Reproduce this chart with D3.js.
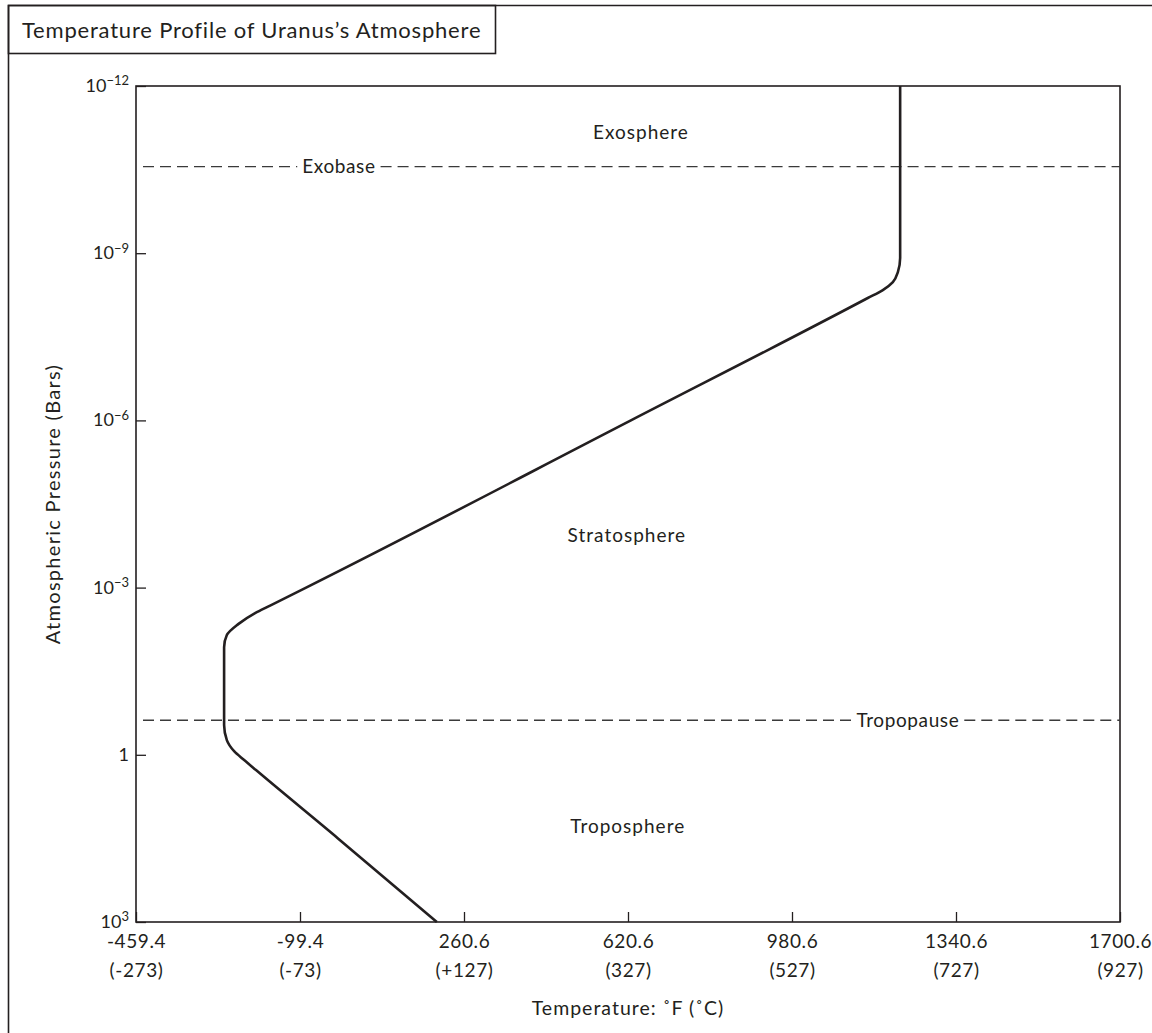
<!DOCTYPE html>
<html>
<head>
<meta charset="utf-8">
<script src="https://cdn.jsdelivr.net/npm/d3@7"></script>
<style>
  body { margin: 0; background: #fff; }
  text { font-family: Lato, "Open Sans", sans-serif; fill: #231f20; }
</style>
</head>
<body>
<div id="chart"></div>
<script>
// temperature (deg F) and pressure (bars) read along the profile, top to bottom
let profileTempF = [1218, 1218, 1213, 1202, 1180, 1147, 627, -86, -165, -198, -235, -260, -266, -266, -260, -244, -222, -196, -16, 201];
let profilePressure = [1e-12, 1.22e-9, 2.18e-9, 3.29e-9, 4.58e-9, 6.37e-9, 1e-6, 1e-3, 2.1e-3, 2.86e-3, 4.52e-3, 7.11e-3, 1.17e-2, 0.293, 0.545, 0.86, 1.24, 1.88, 31.6, 1e3];

// x tick labels
let tickF = [-459.4, -99.4, 260.6, 620.6, 980.6, 1340.6, 1700.6];
let tickFLabels = ["-459.4", "-99.4", "260.6", "620.6", "980.6", "1340.6", "1700.6"];
let tickC = ["(-273)", "(-73)", "(+127)", "(327)", "(527)", "(727)", "(927)"];

// y ticks (exponents of 10)
let tickExp = [-12, -9, -6, -3, 0, 3];

// boundaries and layer names
let boundaryNames = ["Exobase", "Tropopause"];
let boundaryPressure = [2.8e-11, 0.24];
let boundaryLabelF = [-14, 1235];
let layerNames = ["Exosphere", "Stratosphere", "Troposphere"];
let layerPressure = [6.7e-12, 1.15e-4, 19];
let layerTempF = [649, 618, 620];

let svgWidth = 1152;
let svgHeight = 1033;
let margin = { top: 86, right: 32, bottom: 111, left: 136 };
let width = svgWidth - margin.left - margin.right;
let height = svgHeight - margin.top - margin.bottom;

let svg = d3.select("#chart")
    .append("svg")
    .attr("width", svgWidth)
    .attr("height", svgHeight);

// outer frame and title box
svg.append("path")
    .attr("d", `M8.5,${svgHeight} V5.5 H${svgWidth}`)
    .attr("fill", "none")
    .attr("stroke", "#231f20")
    .attr("stroke-width", 1.6);
svg.append("rect")
    .attr("x", 8.5).attr("y", 5.5)
    .attr("width", 487).attr("height", 48)
    .attr("fill", "none")
    .attr("stroke", "#231f20")
    .attr("stroke-width", 1.6);
svg.append("text")
    .attr("x", 22).attr("y", 38)
    .attr("font-size", 22)
    .attr("letter-spacing", 0.8)
    .text("Temperature Profile of Uranus\u2019s Atmosphere");

let chartGroup = svg.append("g")
    .attr("transform", `translate(${margin.left}, ${margin.top})`);

// scales
let xScale = d3.scaleLinear()
    .domain([-459.4, 1700.6])
    .range([0, width]);

let yScale = d3.scaleLog()
    .domain([1e-12, 1e3])
    .range([0, height]);

// axes
let bottomAxis = d3.axisBottom(xScale)
    .tickValues(tickF)
    .tickSize(-10)
    .tickPadding(13)
    .tickFormat((d, i) => tickFLabels[i]);

let leftAxis = d3.axisLeft(yScale)
    .tickValues(tickExp.map(e => Math.pow(10, e)))
    .tickSize(-10)
    .tickPadding(7)
    .tickFormat("");

let xAxisG = chartGroup.append("g")
    .attr("transform", `translate(0, ${height})`)
    .call(bottomAxis);
xAxisG.select(".domain").remove();
xAxisG.selectAll("line").attr("stroke", "#231f20").attr("stroke-width", 1.3);
xAxisG.selectAll("text")
    .attr("font-size", 19)
    .attr("letter-spacing", 0.6)
    .attr("font-family", "Lato, sans-serif")
    .attr("fill", "#231f20")
    .each(function (d, i) {
        d3.select(this).append("tspan")
            .attr("x", 0)
            .attr("dy", "1.5em")
            .text(tickC[i]);
    });

let yAxisG = chartGroup.append("g").call(leftAxis);
yAxisG.select(".domain").remove();
yAxisG.selectAll("line").attr("stroke", "#231f20").attr("stroke-width", 1.3);
yAxisG.selectAll("text")
    .attr("font-size", 18)
    .attr("font-family", "Lato, sans-serif")
    .attr("fill", "#231f20")
    .attr("dy", "0.3em")
    .each(function (d, i) {
        let t = d3.select(this);
        let e = tickExp[i];
        if (e === 0) {
            t.text("1");
        } else {
            t.append("tspan").text("10");
            t.append("tspan")
                .attr("dy", "-0.5em")
                .attr("font-size", 13)
                .text(e < 0 ? "\u2212" + (-e) : String(e));
        }
    });

// plot box
chartGroup.append("rect")
    .attr("width", width)
    .attr("height", height)
    .attr("fill", "none")
    .attr("stroke", "#231f20")
    .attr("stroke-width", 1.6);

// dashed boundaries with inline labels
boundaryNames.forEach((name, i) => {
    let y = yScale(boundaryPressure[i]);
    let lx = xScale(boundaryLabelF[i]);
    let label = chartGroup.append("text")
        .attr("x", lx)
        .attr("y", y)
        .attr("dy", "0.35em")
        .attr("text-anchor", "middle")
        .attr("font-size", 19)
        .attr("letter-spacing", 0.6)
        .text(name);
    let w = label.node().getComputedTextLength();
    [[7, lx - w / 2 - 5], [lx + w / 2 + 5, width]].forEach(seg => {
        chartGroup.append("line")
            .attr("x1", seg[0]).attr("x2", seg[1])
            .attr("y1", y).attr("y2", y)
            .attr("stroke", "#3a3a3a")
            .attr("stroke-width", 1.3)
            .attr("stroke-dasharray", "11,6");
    });
});

// layer names
layerNames.forEach((name, i) => {
    chartGroup.append("text")
        .attr("x", xScale(layerTempF[i]))
        .attr("y", yScale(layerPressure[i]))
        .attr("dy", "0.35em")
        .attr("text-anchor", "middle")
        .attr("font-size", 19)
        .attr("letter-spacing", 1)
        .text(name);
});

// temperature profile
let profile = profileTempF.map((t, i) => [t, profilePressure[i]]);
let line = d3.line()
    .x(d => xScale(d[0]))
    .y(d => yScale(d[1]))
    .curve(d3.curveMonotoneY);

chartGroup.append("path")
    .datum(profile)
    .attr("d", line)
    .attr("fill", "none")
    .attr("stroke", "#231f20")
    .attr("stroke-width", 2.6);

// axis titles
svg.append("text")
    .attr("transform", `translate(60, ${margin.top + height / 2}) rotate(-90)`)
    .attr("text-anchor", "middle")
    .attr("font-size", 20)
    .attr("letter-spacing", 1.3)
    .text("Atmospheric Pressure (Bars)");

svg.append("text")
    .attr("x", margin.left + width / 2)
    .attr("y", 1015)
    .attr("text-anchor", "middle")
    .attr("font-size", 19.5)
    .attr("letter-spacing", 1)
    .text("Temperature: \u02daF (\u02daC)");
</script>
</body>
</html>
